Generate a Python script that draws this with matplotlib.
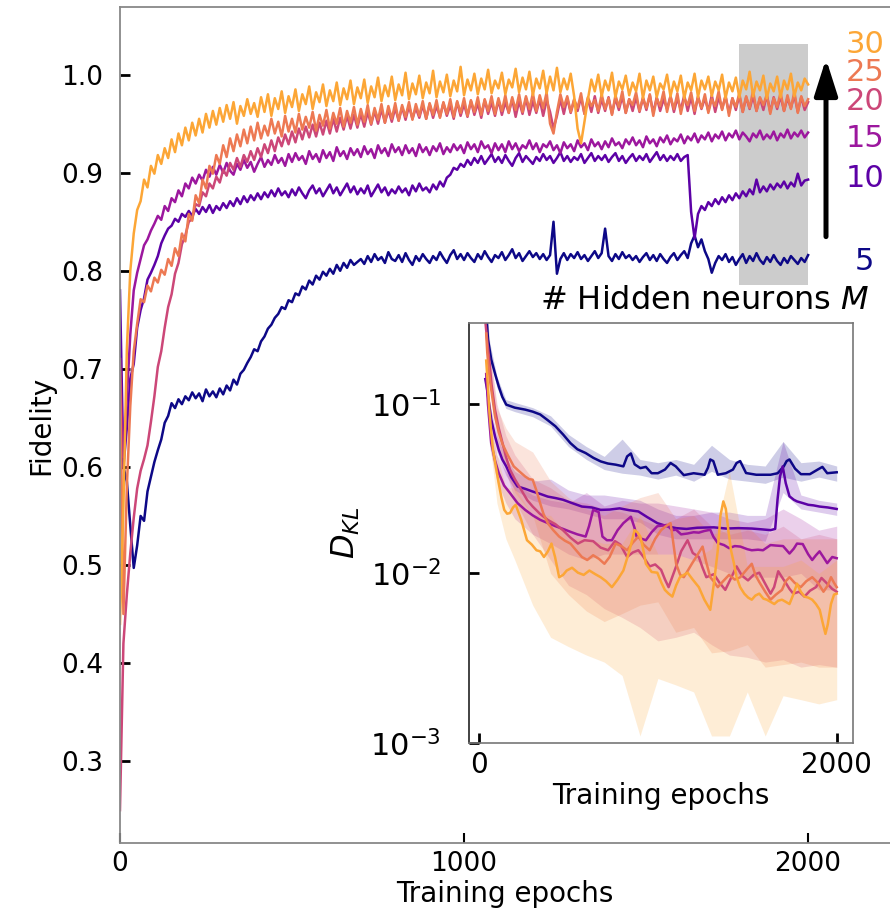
import numpy as np
import matplotlib
matplotlib.use('Agg')
import matplotlib.pyplot as plt

plt.rcParams['font.family'] = ['DejaVu Sans']
plt.rcParams['mathtext.fontset'] = 'dejavusans'

# 训练曲线数据 (每10个epoch读一个点)
EPOCHS = np.arange(0, 2001, 10)
M_VALUES = [5, 10, 15, 20, 25, 30]
COLORS = ['#0d0887', '#5c01a6', '#9c179e', '#cc4778', '#ed7953', '#fca636']

fid_5 = [
    0.620, 0.600, 0.585, 0.540, 0.497, 0.520, 0.550, 0.545, 0.575, 0.590,
    0.605, 0.617, 0.628, 0.645, 0.652, 0.665, 0.660, 0.669, 0.664, 0.672,
    0.668, 0.676, 0.670, 0.675, 0.667, 0.679, 0.672, 0.677, 0.671, 0.680,
    0.674, 0.683, 0.678, 0.689, 0.684, 0.695, 0.699, 0.706, 0.712, 0.720,
    0.718, 0.728, 0.733, 0.741, 0.745, 0.752, 0.756, 0.763, 0.761, 0.770,
    0.768, 0.777, 0.775, 0.784, 0.781, 0.790, 0.786, 0.795, 0.791, 0.799,
    0.795, 0.802, 0.797, 0.806, 0.800, 0.808, 0.803, 0.811, 0.806, 0.809,
    0.812, 0.807, 0.815, 0.809, 0.817, 0.811, 0.814, 0.808, 0.819, 0.812,
    0.810, 0.816, 0.809, 0.818, 0.811, 0.806, 0.815, 0.810, 0.817, 0.812,
    0.808, 0.815, 0.811, 0.819, 0.813, 0.808, 0.816, 0.821, 0.812, 0.817,
    0.811, 0.818, 0.813, 0.809, 0.817, 0.812, 0.820, 0.814, 0.809, 0.816,
    0.813, 0.819, 0.811, 0.816, 0.822, 0.813, 0.818, 0.810, 0.815, 0.820,
    0.814, 0.818, 0.812, 0.817, 0.811, 0.816, 0.850, 0.797, 0.812, 0.818,
    0.811, 0.817, 0.813, 0.819, 0.812, 0.816, 0.810, 0.815, 0.820, 0.813,
    0.818, 0.843, 0.815, 0.810, 0.817, 0.812, 0.819, 0.813, 0.816, 0.811,
    0.815, 0.809, 0.814, 0.818, 0.811, 0.816, 0.810, 0.817, 0.812, 0.808,
    0.814, 0.818, 0.811, 0.816, 0.820, 0.813, 0.828, 0.836, 0.824, 0.832,
    0.820, 0.812, 0.798, 0.808, 0.815, 0.811, 0.817, 0.809, 0.814, 0.806,
    0.812, 0.817, 0.808, 0.815, 0.810, 0.818, 0.811, 0.807, 0.814, 0.809,
    0.816, 0.810, 0.806, 0.813, 0.808, 0.815, 0.811, 0.807, 0.813, 0.809,
    0.816]

fid_10 = [
    0.780, 0.600, 0.640, 0.690, 0.705, 0.742, 0.760, 0.772, 0.791, 0.798,
    0.806, 0.815, 0.828, 0.836, 0.843, 0.846, 0.853, 0.850, 0.858, 0.855,
    0.861, 0.856, 0.863, 0.858, 0.865, 0.860, 0.867, 0.859, 0.866, 0.862,
    0.869, 0.864, 0.871, 0.866, 0.874, 0.868, 0.876, 0.870, 0.877, 0.872,
    0.879, 0.873, 0.880, 0.875, 0.882, 0.876, 0.884, 0.877, 0.881, 0.875,
    0.883, 0.877, 0.885, 0.879, 0.874, 0.882, 0.887, 0.879, 0.884, 0.876,
    0.882, 0.888, 0.879, 0.885, 0.877, 0.883, 0.889, 0.880, 0.886, 0.878,
    0.884, 0.879, 0.887, 0.876, 0.882, 0.888, 0.880, 0.885, 0.877, 0.883,
    0.879, 0.886, 0.880, 0.884, 0.877, 0.887, 0.881, 0.889, 0.882, 0.885,
    0.880, 0.888, 0.883, 0.891, 0.886, 0.895, 0.898, 0.905, 0.903, 0.909,
    0.906, 0.913, 0.908, 0.915, 0.910, 0.917, 0.909, 0.914, 0.919, 0.911,
    0.916, 0.910, 0.918, 0.912, 0.907, 0.915, 0.920, 0.911, 0.917, 0.913,
    0.909, 0.916, 0.912, 0.919, 0.913, 0.917, 0.910, 0.915, 0.921, 0.912,
    0.917, 0.911, 0.916, 0.913, 0.919, 0.910, 0.915, 0.920, 0.912, 0.917,
    0.913, 0.918, 0.911, 0.916, 0.920, 0.912, 0.917, 0.910, 0.915, 0.919,
    0.912, 0.917, 0.913, 0.919, 0.911, 0.916, 0.921, 0.913, 0.918, 0.912,
    0.917, 0.913, 0.919, 0.912, 0.916, 0.918, 0.860, 0.833, 0.858, 0.866,
    0.862, 0.870, 0.866, 0.873, 0.868, 0.875, 0.870, 0.877, 0.872, 0.879,
    0.874, 0.881, 0.876, 0.883, 0.878, 0.893, 0.880, 0.886, 0.881, 0.888,
    0.883, 0.889, 0.885, 0.891, 0.884, 0.890, 0.886, 0.899, 0.887, 0.892,
    0.893]

fid_15 = [
    0.700, 0.610, 0.670, 0.735, 0.780, 0.798, 0.812, 0.826, 0.832, 0.841,
    0.848, 0.856, 0.852, 0.866, 0.861, 0.874, 0.870, 0.882, 0.876, 0.889,
    0.884, 0.895, 0.889, 0.898, 0.892, 0.903, 0.896, 0.906, 0.898, 0.908,
    0.900, 0.910, 0.902, 0.898, 0.909, 0.903, 0.913, 0.905, 0.911, 0.901,
    0.909, 0.916, 0.906, 0.913, 0.908, 0.918, 0.910, 0.915, 0.907, 0.919,
    0.911, 0.920, 0.913, 0.917, 0.909, 0.922, 0.914, 0.919, 0.911, 0.923,
    0.915, 0.921, 0.912, 0.926, 0.917, 0.922, 0.914, 0.925, 0.918, 0.924,
    0.916, 0.927, 0.919, 0.924, 0.915, 0.928, 0.920, 0.925, 0.917, 0.929,
    0.921, 0.926, 0.918, 0.928, 0.920, 0.925, 0.917, 0.929, 0.921, 0.926,
    0.918, 0.927, 0.922, 0.930, 0.919, 0.926, 0.921, 0.929, 0.923, 0.928,
    0.920, 0.931, 0.924, 0.929, 0.921, 0.932, 0.925, 0.928, 0.920, 0.930,
    0.923, 0.929, 0.921, 0.932, 0.924, 0.930, 0.922, 0.928, 0.925, 0.933,
    0.924, 0.930, 0.921, 0.929, 0.926, 0.932, 0.923, 0.928, 0.920, 0.931,
    0.925, 0.929, 0.922, 0.933, 0.926, 0.930, 0.923, 0.934, 0.927, 0.931,
    0.924, 0.932, 0.926, 0.935, 0.928, 0.931, 0.925, 0.934, 0.929, 0.936,
    0.928, 0.933, 0.926, 0.937, 0.930, 0.934, 0.927, 0.936, 0.931, 0.938,
    0.929, 0.935, 0.932, 0.939, 0.930, 0.937, 0.933, 0.940, 0.931, 0.938,
    0.934, 0.941, 0.932, 0.939, 0.935, 0.942, 0.933, 0.940, 0.936, 0.943,
    0.934, 0.941, 0.937, 0.932, 0.940, 0.936, 0.943, 0.934, 0.939, 0.935,
    0.942, 0.933, 0.940, 0.936, 0.944, 0.935, 0.941, 0.937, 0.943, 0.936,
    0.941]

fid_20 = [
    0.250, 0.420, 0.470, 0.512, 0.548, 0.578, 0.596, 0.608, 0.622, 0.646,
    0.672, 0.702, 0.718, 0.742, 0.763, 0.776, 0.797, 0.808, 0.827, 0.836,
    0.850, 0.853, 0.868, 0.866, 0.880, 0.876, 0.889, 0.884, 0.896, 0.890,
    0.903, 0.897, 0.910, 0.903, 0.915, 0.906, 0.918, 0.911, 0.922, 0.913,
    0.925, 0.916, 0.929, 0.920, 0.933, 0.922, 0.936, 0.927, 0.939, 0.929,
    0.942, 0.931, 0.945, 0.934, 0.947, 0.936, 0.949, 0.937, 0.951, 0.939,
    0.953, 0.940, 0.955, 0.942, 0.956, 0.944, 0.958, 0.945, 0.959, 0.946,
    0.960, 0.947, 0.962, 0.949, 0.963, 0.950, 0.965, 0.951, 0.964, 0.952,
    0.966, 0.953, 0.967, 0.954, 0.968, 0.955, 0.966, 0.956, 0.969, 0.955,
    0.970, 0.956, 0.968, 0.957, 0.971, 0.958, 0.969, 0.955, 0.972, 0.958,
    0.970, 0.957, 0.973, 0.959, 0.971, 0.956, 0.974, 0.960, 0.972, 0.958,
    0.974, 0.959, 0.972, 0.961, 0.975, 0.957, 0.973, 0.960, 0.976, 0.959,
    0.973, 0.961, 0.975, 0.958, 0.974, 0.962, 0.945, 0.958, 0.975, 0.960,
    0.976, 0.961, 0.974, 0.963, 0.977, 0.960, 0.975, 0.962, 0.978, 0.961,
    0.975, 0.963, 0.977, 0.960, 0.976, 0.964, 0.978, 0.961, 0.975, 0.963,
    0.977, 0.962, 0.976, 0.964, 0.979, 0.961, 0.977, 0.963, 0.975, 0.965,
    0.978, 0.962, 0.976, 0.964, 0.979, 0.963, 0.977, 0.960, 0.978, 0.965,
    0.976, 0.963, 0.979, 0.962, 0.977, 0.965, 0.978, 0.961, 0.976, 0.964,
    0.979, 0.962, 0.977, 0.965, 0.978, 0.963, 0.976, 0.964, 0.979, 0.962,
    0.977, 0.965, 0.978, 0.963, 0.976, 0.966, 0.979, 0.962, 0.977, 0.964,
    0.972]

fid_25 = [
    0.710, 0.450, 0.580, 0.662, 0.718, 0.746, 0.771, 0.768, 0.785, 0.779,
    0.793, 0.788, 0.801, 0.796, 0.812, 0.805, 0.823, 0.815, 0.838, 0.830,
    0.858, 0.851, 0.877, 0.869, 0.893, 0.884, 0.907, 0.899, 0.918, 0.909,
    0.928, 0.916, 0.935, 0.922, 0.939, 0.927, 0.944, 0.930, 0.947, 0.933,
    0.951, 0.935, 0.948, 0.938, 0.955, 0.940, 0.952, 0.937, 0.958, 0.942,
    0.955, 0.941, 0.960, 0.944, 0.957, 0.946, 0.962, 0.943, 0.959, 0.948,
    0.964, 0.945, 0.961, 0.950, 0.966, 0.947, 0.963, 0.951, 0.967, 0.949,
    0.965, 0.952, 0.969, 0.950, 0.966, 0.954, 0.970, 0.951, 0.968, 0.955,
    0.971, 0.953, 0.969, 0.957, 0.972, 0.954, 0.970, 0.958, 0.973, 0.955,
    0.971, 0.959, 0.974, 0.956, 0.972, 0.960, 0.975, 0.957, 0.973, 0.961,
    0.976, 0.958, 0.974, 0.962, 0.977, 0.959, 0.975, 0.963, 0.978, 0.960,
    0.976, 0.963, 0.979, 0.961, 0.977, 0.964, 0.980, 0.962, 0.978, 0.965,
    0.981, 0.963, 0.979, 0.966, 0.982, 0.950, 0.940, 0.962, 0.980, 0.967,
    0.978, 0.962, 0.975, 0.966, 0.981, 0.960, 0.977, 0.968, 0.974, 0.963,
    0.980, 0.965, 0.976, 0.959, 0.979, 0.967, 0.983, 0.961, 0.975, 0.969,
    0.982, 0.963, 0.977, 0.966, 0.980, 0.958, 0.976, 0.968, 0.983, 0.962,
    0.978, 0.965, 0.981, 0.960, 0.976, 0.969, 0.982, 0.963, 0.977, 0.966,
    0.980, 0.961, 0.975, 0.968, 0.983, 0.964, 0.979, 0.958, 0.976, 0.967,
    0.981, 0.962, 0.978, 0.966, 0.984, 0.963, 0.977, 0.969, 0.980, 0.960,
    0.976, 0.967, 0.982, 0.963, 0.979, 0.965, 0.983, 0.961, 0.978, 0.968,
    0.975]

fid_30 = [
    0.440, 0.560, 0.720, 0.800, 0.838, 0.862, 0.871, 0.893, 0.885, 0.907,
    0.899, 0.918, 0.909, 0.925, 0.915, 0.934, 0.921, 0.940, 0.928, 0.946,
    0.933, 0.951, 0.938, 0.955, 0.941, 0.960, 0.946, 0.963, 0.949, 0.966,
    0.952, 0.969, 0.955, 0.972, 0.950, 0.968, 0.958, 0.975, 0.960, 0.971,
    0.957, 0.977, 0.962, 0.980, 0.958, 0.976, 0.965, 0.983, 0.961, 0.978,
    0.967, 0.985, 0.963, 0.980, 0.970, 0.988, 0.965, 0.982, 0.972, 0.990,
    0.968, 0.984, 0.973, 0.992, 0.969, 0.986, 0.975, 0.994, 0.970, 0.987,
    0.976, 0.995, 0.971, 0.988, 0.977, 0.997, 0.973, 0.989, 0.978, 0.998,
    0.974, 0.990, 0.979, 1.002, 0.975, 0.991, 0.980, 0.999, 0.976, 0.992,
    0.981, 1.004, 0.977, 0.993, 0.982, 1.000, 0.978, 0.994, 0.983, 1.008,
    0.979, 0.995, 0.984, 1.001, 0.980, 0.996, 0.985, 1.005, 0.981, 0.994,
    0.986, 1.002, 0.980, 0.995, 0.987, 1.006, 0.982, 0.997, 0.985, 1.003,
    0.979, 0.996, 0.986, 1.004, 0.981, 0.998, 0.984, 1.007, 0.982, 0.996,
    0.985, 1.001, 0.978, 0.945, 0.930, 0.952, 0.975, 0.995, 0.983, 1.000,
    0.978, 0.994, 0.984, 1.002, 0.977, 0.993, 0.985, 0.999, 0.979, 0.992,
    0.983, 1.001, 0.976, 0.994, 0.984, 0.998, 0.977, 0.991, 0.985, 1.000,
    0.978, 0.993, 0.983, 0.999, 0.976, 0.992, 0.984, 1.001, 0.977, 0.994,
    0.985, 0.998, 0.978, 0.993, 0.984, 1.000, 0.976, 0.992, 0.983, 0.997,
    0.977, 0.994, 0.985, 1.003, 0.978, 0.993, 0.984, 0.999, 0.976, 0.991,
    0.983, 0.998, 0.977, 0.994, 0.985, 1.001, 0.978, 0.992, 0.984, 0.996,
    0.990]

FIDELITY = [fid_5, fid_10, fid_15, fid_20, fid_25, fid_30]

# 灰色区域 (最后200个epoch)
WINDOW_X = (1800, 2000)
WINDOW_Y = (0.786, 1.031)

# 插图: D_KL 曲线 (epoch, 值)
dkl_5 = [(40, 0.35), (50, 0.24), (68, 0.183), (90, 0.150), (110, 0.127), (130, 0.110),
         (152, 0.099), (200, 0.095), (258, 0.0925), (300, 0.090), (342, 0.0866),
         (385, 0.080), (427, 0.0738), (470, 0.066), (511, 0.0587), (550, 0.054),
         (596, 0.0513), (640, 0.048), (680, 0.0458), (720, 0.0445), (764, 0.0438),
         (807, 0.0428), (828, 0.049), (849, 0.051), (870, 0.044), (902, 0.0418),
         (933, 0.0425), (965, 0.039), (1000, 0.039), (1040, 0.041), (1071, 0.0448),
         (1100, 0.0428), (1145, 0.038), (1200, 0.039), (1261, 0.0382), (1280, 0.042),
         (1293, 0.047), (1310, 0.046), (1335, 0.0382), (1380, 0.039), (1420, 0.041),
         (1440, 0.0448), (1460, 0.046), (1493, 0.0391), (1550, 0.0382), (1630, 0.0382),
         (1670, 0.039), (1704, 0.0428), (1720, 0.046), (1736, 0.047), (1767, 0.0415),
         (1800, 0.0385), (1850, 0.0385), (1894, 0.041), (1920, 0.0425), (1947, 0.039),
         (2000, 0.0395)]
dkl_10 = [(35, 0.14), (46, 0.12), (68, 0.081), (90, 0.064), (110, 0.0537), (130, 0.047),
          (152, 0.0428), (180, 0.037), (215, 0.0326), (260, 0.0315), (300, 0.0304),
          (340, 0.0295), (384, 0.0284), (430, 0.0278), (469, 0.0272), (520, 0.026),
          (575, 0.0248), (630, 0.0245), (680, 0.0237), (730, 0.0238), (786, 0.0242),
          (840, 0.0236), (891, 0.0232), (940, 0.0215), (997, 0.0198), (1050, 0.019),
          (1102, 0.0185), (1160, 0.0183), (1220, 0.0186), (1313, 0.0187), (1380, 0.0184),
          (1450, 0.0185), (1525, 0.0184), (1580, 0.0182), (1630, 0.018), (1656, 0.0183),
          (1669, 0.0272), (1683, 0.0373), (1698, 0.0428), (1715, 0.0341), (1736, 0.0285),
          (1760, 0.0272), (1778, 0.0266), (1810, 0.026), (1841, 0.0254), (1870, 0.0252),
          (1904, 0.0248), (1950, 0.0245), (2000, 0.024)]
dkl_15 = [(40, 0.15), (50, 0.10), (68, 0.0588), (90, 0.046), (110, 0.0391), (140, 0.033),
          (173, 0.0298), (215, 0.026), (258, 0.0237), (300, 0.022), (342, 0.0207),
          (385, 0.0198), (427, 0.019), (470, 0.0183), (511, 0.0176), (550, 0.017),
          (596, 0.0165), (615, 0.019), (638, 0.0237), (669, 0.023), (690, 0.0165),
          (715, 0.0157), (743, 0.0157), (775, 0.018), (807, 0.0198), (849, 0.0216),
          (870, 0.0185), (881, 0.0165), (910, 0.016), (933, 0.0157), (965, 0.0175),
          (997, 0.019), (1050, 0.0193), (1080, 0.018), (1102, 0.0181), (1130, 0.017),
          (1166, 0.0172), (1200, 0.0175), (1229, 0.0174), (1260, 0.0178), (1293, 0.0181),
          (1310, 0.0165), (1335, 0.0151), (1370, 0.0147), (1398, 0.0141), (1430, 0.0145),
          (1461, 0.0144), (1500, 0.0139), (1525, 0.0137), (1560, 0.0138), (1588, 0.0137),
          (1630, 0.0147), (1660, 0.0146), (1700, 0.0145), (1736, 0.0131), (1760, 0.014),
          (1778, 0.015), (1810, 0.0149), (1840, 0.013), (1863, 0.012), (1884, 0.0128),
          (1904, 0.0135), (1925, 0.0125), (1947, 0.0115), (1975, 0.0125), (2000, 0.0123)]
dkl_20 = [(36, 0.30), (45, 0.24), (57, 0.183), (70, 0.13), (89, 0.0925), (110, 0.072),
          (131, 0.0588), (150, 0.049), (173, 0.041), (200, 0.036), (236, 0.0311),
          (270, 0.027), (300, 0.0248), (340, 0.0225), (384, 0.0207), (427, 0.0195),
          (469, 0.018), (510, 0.0163), (553, 0.015), (590, 0.0157), (638, 0.0155),
          (680, 0.0142), (722, 0.0137), (760, 0.0155), (790, 0.0148), (828, 0.0125),
          (860, 0.0133), (891, 0.0137), (920, 0.0125), (954, 0.011), (985, 0.0113),
          (1018, 0.0105), (1040, 0.0092), (1060, 0.0083), (1080, 0.0095), (1102, 0.011),
          (1130, 0.0135), (1166, 0.0157), (1195, 0.0132), (1229, 0.0125), (1250, 0.0108),
          (1271, 0.0095), (1292, 0.0097), (1313, 0.0099), (1345, 0.0088), (1377, 0.008),
          (1405, 0.0092), (1440, 0.011), (1470, 0.0097), (1504, 0.0091), (1535, 0.0098),
          (1567, 0.0101), (1600, 0.0087), (1630, 0.0076), (1650, 0.0083), (1673, 0.0103),
          (1694, 0.0095), (1715, 0.0088), (1736, 0.0081), (1757, 0.0076), (1790, 0.0078),
          (1820, 0.0073), (1850, 0.0079), (1884, 0.0083), (1915, 0.0094), (1947, 0.0087),
          (1975, 0.0081), (2000, 0.0078)]
dkl_25 = [(40, 0.26), (46, 0.20), (60, 0.14), (89, 0.0845), (110, 0.068), (131, 0.058),
          (160, 0.050), (194, 0.0428), (225, 0.040), (258, 0.0373), (280, 0.036),
          (300, 0.0357), (320, 0.031), (342, 0.0259), (360, 0.0225), (384, 0.0198),
          (415, 0.018), (448, 0.0165), (480, 0.0156), (511, 0.015), (540, 0.0138),
          (575, 0.0125), (605, 0.012), (638, 0.0128), (670, 0.0122), (701, 0.0114),
          (730, 0.0125), (764, 0.015), (795, 0.0145), (828, 0.0137), (860, 0.0152),
          (891, 0.0165), (920, 0.0148), (954, 0.0137), (985, 0.016), (1018, 0.018),
          (1045, 0.019), (1071, 0.0198), (1085, 0.0155), (1102, 0.0114), (1125, 0.0098),
          (1145, 0.0095), (1170, 0.0105), (1190, 0.0114), (1220, 0.0128), (1250, 0.0144),
          (1270, 0.0117), (1293, 0.0095), (1315, 0.0089), (1335, 0.0083), (1365, 0.009),
          (1398, 0.0098), (1430, 0.0092), (1461, 0.0095), (1495, 0.0105), (1525, 0.0114),
          (1545, 0.0098), (1567, 0.0089), (1600, 0.0078), (1630, 0.007), (1660, 0.0075),
          (1694, 0.008), (1715, 0.009), (1736, 0.0095), (1765, 0.0088), (1799, 0.0083),
          (1830, 0.009), (1863, 0.0095), (1895, 0.0088), (1926, 0.0078), (1950, 0.0085),
          (1968, 0.0095), (1985, 0.0088), (2000, 0.0083)]
dkl_30 = [(40, 0.18), (50, 0.125), (57, 0.0925), (68, 0.068), (78, 0.0537), (95, 0.042),
          (110, 0.034), (125, 0.028), (141, 0.0237), (157, 0.0225), (173, 0.0227),
          (190, 0.0245), (205, 0.0254), (220, 0.023), (236, 0.0207), (252, 0.018),
          (268, 0.0157), (295, 0.0148), (321, 0.0137), (342, 0.0135), (363, 0.0125),
          (385, 0.0135), (405, 0.015), (425, 0.0125), (448, 0.0095), (470, 0.0098),
          (490, 0.0104), (520, 0.0108), (553, 0.0101), (585, 0.0098), (617, 0.0104),
          (650, 0.0099), (680, 0.0095), (710, 0.009), (743, 0.0083), (775, 0.0092),
          (807, 0.0104), (840, 0.0135), (870, 0.018), (885, 0.0175), (902, 0.0165),
          (920, 0.0135), (933, 0.0114), (965, 0.0102), (997, 0.0101), (1020, 0.0088),
          (1039, 0.008), (1060, 0.0076), (1081, 0.0073), (1102, 0.0085), (1123, 0.0095),
          (1145, 0.0098), (1166, 0.0101), (1195, 0.0092), (1229, 0.0083), (1260, 0.007),
          (1293, 0.0061), (1315, 0.009), (1335, 0.0137), (1350, 0.022), (1366, 0.0266),
          (1380, 0.024), (1394, 0.018), (1409, 0.0137), (1425, 0.0115), (1440, 0.0095),
          (1460, 0.0083), (1483, 0.0076), (1505, 0.0072), (1525, 0.007), (1545, 0.0074),
          (1567, 0.0076), (1590, 0.0071), (1609, 0.007), (1630, 0.0068), (1651, 0.0066),
          (1672, 0.0069), (1694, 0.007), (1715, 0.0068), (1736, 0.0066), (1757, 0.0075),
          (1778, 0.0087), (1799, 0.0078), (1820, 0.0073), (1841, 0.0072), (1863, 0.007),
          (1884, 0.0066), (1905, 0.0061), (1920, 0.0052), (1937, 0.0044), (1950, 0.005),
          (1968, 0.0066), (1985, 0.0075), (2000, 0.0076)]
DKL = [dkl_5, dkl_10, dkl_15, dkl_20, dkl_25, dkl_30]

# 插图: 阴影带上下界
BAND_EP = [40, 60, 100, 150, 200, 300, 400, 500, 600, 700, 800, 900, 1000,
           1100, 1200, 1300, 1400, 1500, 1600, 1700, 1800, 1900, 2000]
band_lo = [
    [0.30, 0.19, 0.125, 0.094, 0.090, 0.084, 0.074, 0.056, 0.047, 0.041, 0.039, 0.038,
     0.036, 0.038, 0.035, 0.040, 0.036, 0.035, 0.034, 0.037, 0.035, 0.037, 0.035],
    [0.12, 0.08, 0.052, 0.038, 0.031, 0.027, 0.025, 0.024, 0.0225, 0.021, 0.021, 0.020,
     0.017, 0.016, 0.016, 0.016, 0.016, 0.016, 0.0155, 0.030, 0.024, 0.023, 0.022],
    [0.10, 0.055, 0.035, 0.026, 0.021, 0.017, 0.015, 0.013, 0.012, 0.013, 0.013, 0.013,
     0.013, 0.013, 0.012, 0.011, 0.010, 0.0095, 0.0095, 0.0095, 0.010, 0.008, 0.008],
    [0.25, 0.14, 0.065, 0.040, 0.027, 0.017, 0.012, 0.0085, 0.0075, 0.0062, 0.0055, 0.0048,
     0.0040, 0.0042, 0.0045, 0.0038, 0.0033, 0.0032, 0.0030, 0.0031, 0.0028, 0.0029, 0.0028],
    [0.21, 0.13, 0.060, 0.042, 0.030, 0.022, 0.010, 0.0075, 0.0060, 0.0052, 0.0058, 0.0065,
     0.0068, 0.0045, 0.0048, 0.0034, 0.0035, 0.0038, 0.0028, 0.0029, 0.0030, 0.0028, 0.0028],
    [0.15, 0.060, 0.026, 0.016, 0.012, 0.0065, 0.0042, 0.0037, 0.0033, 0.0030, 0.0025, 0.0011,
     0.0024, 0.0022, 0.0020, 0.0011, 0.0011, 0.0020, 0.0011, 0.0019, 0.0018, 0.0017, 0.0018],
]
band_hi = [
    [0.40, 0.23, 0.145, 0.106, 0.102, 0.095, 0.085, 0.066, 0.056, 0.049, 0.062, 0.047,
     0.045, 0.047, 0.044, 0.057, 0.047, 0.044, 0.043, 0.060, 0.045, 0.046, 0.043],
    [0.16, 0.10, 0.065, 0.048, 0.040, 0.035, 0.036, 0.031, 0.029, 0.029, 0.028, 0.027,
     0.024, 0.022, 0.022, 0.023, 0.023, 0.022, 0.022, 0.060, 0.029, 0.027, 0.026],
    [0.15, 0.080, 0.050, 0.040, 0.034, 0.029, 0.027, 0.026, 0.030, 0.025, 0.027, 0.026,
     0.026, 0.025, 0.024, 0.023, 0.021, 0.020, 0.021, 0.024, 0.021, 0.018, 0.019],
    [0.36, 0.21, 0.10, 0.065, 0.050, 0.036, 0.032, 0.027, 0.026, 0.024, 0.023, 0.021,
     0.019, 0.021, 0.024, 0.019, 0.017, 0.018, 0.017, 0.019, 0.016, 0.017, 0.016],
    [0.30, 0.20, 0.095, 0.072, 0.060, 0.052, 0.035, 0.028, 0.024, 0.022, 0.025, 0.028,
     0.030, 0.021, 0.022, 0.017, 0.018, 0.019, 0.015, 0.016, 0.016, 0.016, 0.016],
    [0.26, 0.11, 0.050, 0.032, 0.032, 0.022, 0.022, 0.016, 0.016, 0.015, 0.015, 0.022,
     0.013, 0.013, 0.012, 0.014, 0.040, 0.011, 0.011, 0.011, 0.012, 0.010, 0.012],
]

# ---------------- 主图 ----------------
fig = plt.figure(figsize=(8.9, 9.21), dpi=100)
ax = fig.add_axes([0.1348, 0.0847, 0.8652, 0.9077])

ax.fill_between(WINDOW_X, WINDOW_Y[0], WINDOW_Y[1], color='#cccccc', lw=0, zorder=0)
for c, f in zip(COLORS, FIDELITY):
    ax.plot(EPOCHS, f, color=c, lw=1.8, zorder=2)

ax.set_xlim(0, 2238)
ax.set_ylim(0.2165, 1.069)
ax.set_xticks([0, 1000, 2000])
ax.set_yticks([0.3, 0.4, 0.5, 0.6, 0.7, 0.8, 0.9, 1.0])
ax.tick_params(axis='y', direction='in', length=7, width=2, labelsize=19, pad=12)
ax.tick_params(axis='x', direction='in', length=7, width=1.5, labelsize=19, pad=6)
ax.spines['right'].set_visible(False)
for s in ['left', 'bottom', 'top']:
    ax.spines[s].set_color('#888888')
    ax.spines[s].set_linewidth(1.3)
ax.set_xlabel('Training epochs', fontsize=20, labelpad=2)
ax.set_ylabel('Fidelity', fontsize=20, labelpad=4)

# 右侧的 M 标签
label_y = [0.809, 0.894, 0.935, 0.973, 1.002, 1.031]
label_x = [2192, 2221, 2221, 2221, 2221, 2221]
for m, c, lx, ly in zip(M_VALUES, COLORS, label_x, label_y):
    ax.text(lx, ly, str(m), color=c, fontsize=22, ha='right', va='center', clip_on=False)
ax.annotate('', xy=(2052, 1.019), xytext=(2052, 0.832),
            arrowprops=dict(arrowstyle='-|>,head_width=0.35,head_length=1.1',
                            lw=3.6, color='black', mutation_scale=20))
ax.text(1700, 0.770, r'# Hidden neurons $M$', fontsize=23, ha='center', va='center')

# ---------------- 插图 ----------------
axin = fig.add_axes([0.527, 0.1933, 0.431, 0.456])
for c, lo, hi in zip(COLORS, band_lo, band_hi):
    axin.fill_between(BAND_EP, lo, hi, color=c, alpha=0.2, lw=0)
for c, d in zip(COLORS, DKL):
    ep, val = np.array(d).T
    axin.plot(ep, val, color=c, lw=1.8)

axin.set_yscale('log')
axin.set_ylim(1e-3, 0.30)
axin.set_xlim(-56, 2089)
axin.set_xticks([0, 2000])
axin.set_yticks([1e-3, 1e-2, 1e-1])
axin.yaxis.set_minor_locator(plt.NullLocator())
axin.tick_params(axis='y', direction='in', length=7, width=2, labelsize=22, pad=20)
axin.tick_params(axis='x', direction='in', length=7, width=2, labelsize=20, pad=6)
for s in axin.spines.values():
    s.set_color('#777777')
    s.set_linewidth(1.2)
axin.spines['left'].set_color('#222222')
axin.set_xlabel('Training epochs', fontsize=20, labelpad=2)
axin.set_ylabel(r'$D_{KL}$', fontsize=23, labelpad=6)

fig.savefig('out.png', dpi=100)
